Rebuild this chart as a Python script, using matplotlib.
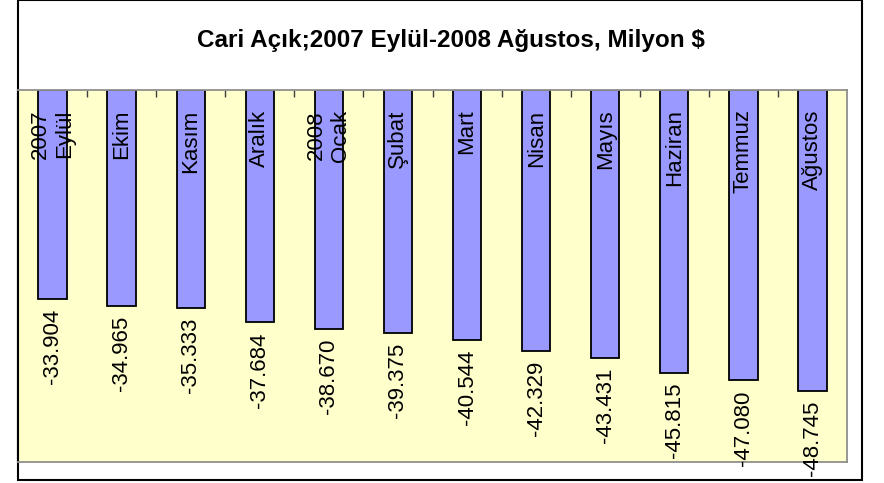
import matplotlib
matplotlib.use("Agg")
import matplotlib.pyplot as plt
from matplotlib.patches import Rectangle

categories = ["2007\nEylül", "Ekim", "Kasım", "Aralık", "2008\nOcak", "Şubat",
              "Mart", "Nisan", "Mayıs", "Haziran", "Temmuz", "Ağustos"]
values = [-33.904, -34.965, -35.333, -37.684, -38.670, -39.375,
          -40.544, -42.329, -43.431, -45.815, -47.080, -48.745]
value_labels = ["-33.904", "-34.965", "-35.333", "-37.684", "-38.670", "-39.375",
                "-40.544", "-42.329", "-43.431", "-45.815", "-47.080", "-48.745"]
title = "Cari Açık;2007 Eylül-2008 Ağustos, Milyon $"

W, H = 884, 483
fig = plt.figure(figsize=(W / 100, H / 100), dpi=100)
fig.patch.set_facecolor("white")

# outer frame
fig.add_artist(Rectangle((18 / W, 1 - 480 / H), (862 - 18) / W, 480 / H - 0.001,
                         transform=fig.transFigure, fill=False, edgecolor="black",
                         linewidth=1.5, zorder=0))

ax = fig.add_axes([18 / W, 1 - 462 / H, (847 - 18) / W, (462 - 90) / H])
ax.set_facecolor("#FFFFCC")
x = list(range(len(categories)))
ax.bar(x, values, width=0.41, color="#9999FF", edgecolor="black", linewidth=1.3, zorder=2)
ax.set_xlim(-0.5, len(categories) - 0.5)
ax.set_ylim(-60.3, 0)

for s in ["top", "right", "bottom"]:
    ax.spines[s].set_color("#909090")
    ax.spines[s].set_linewidth(1.3)
ax.spines["left"].set_color("black")
ax.spines["left"].set_linewidth(1.5)

ax.xaxis.tick_top()
ax.set_xticks([i + 0.5 for i in range(len(categories) - 1)])
ax.set_xticklabels([])
ax.tick_params(axis="x", direction="in", length=5, width=1, color="#404040")
ax.set_yticks([])

for i, (lab, v, vl) in enumerate(zip(categories, values, value_labels)):
    ax.annotate(lab, xy=(i, 0), xytext=(0, -14), textcoords="offset points",
                rotation=90, ha="center", va="top", fontsize=16,
                family="Liberation Sans", zorder=3)
    ax.annotate(vl, xy=(i, v), xytext=(0, -7), textcoords="offset points",
                rotation=90, ha="center", va="top", fontsize=16,
                family="Liberation Sans", annotation_clip=False, zorder=3)

fig.text(451 / W, 1 - 41 / H, title, ha="center", va="center",
         fontsize=17.5, fontweight="bold", family="Liberation Sans")
fig.savefig("out.png", dpi=100)
